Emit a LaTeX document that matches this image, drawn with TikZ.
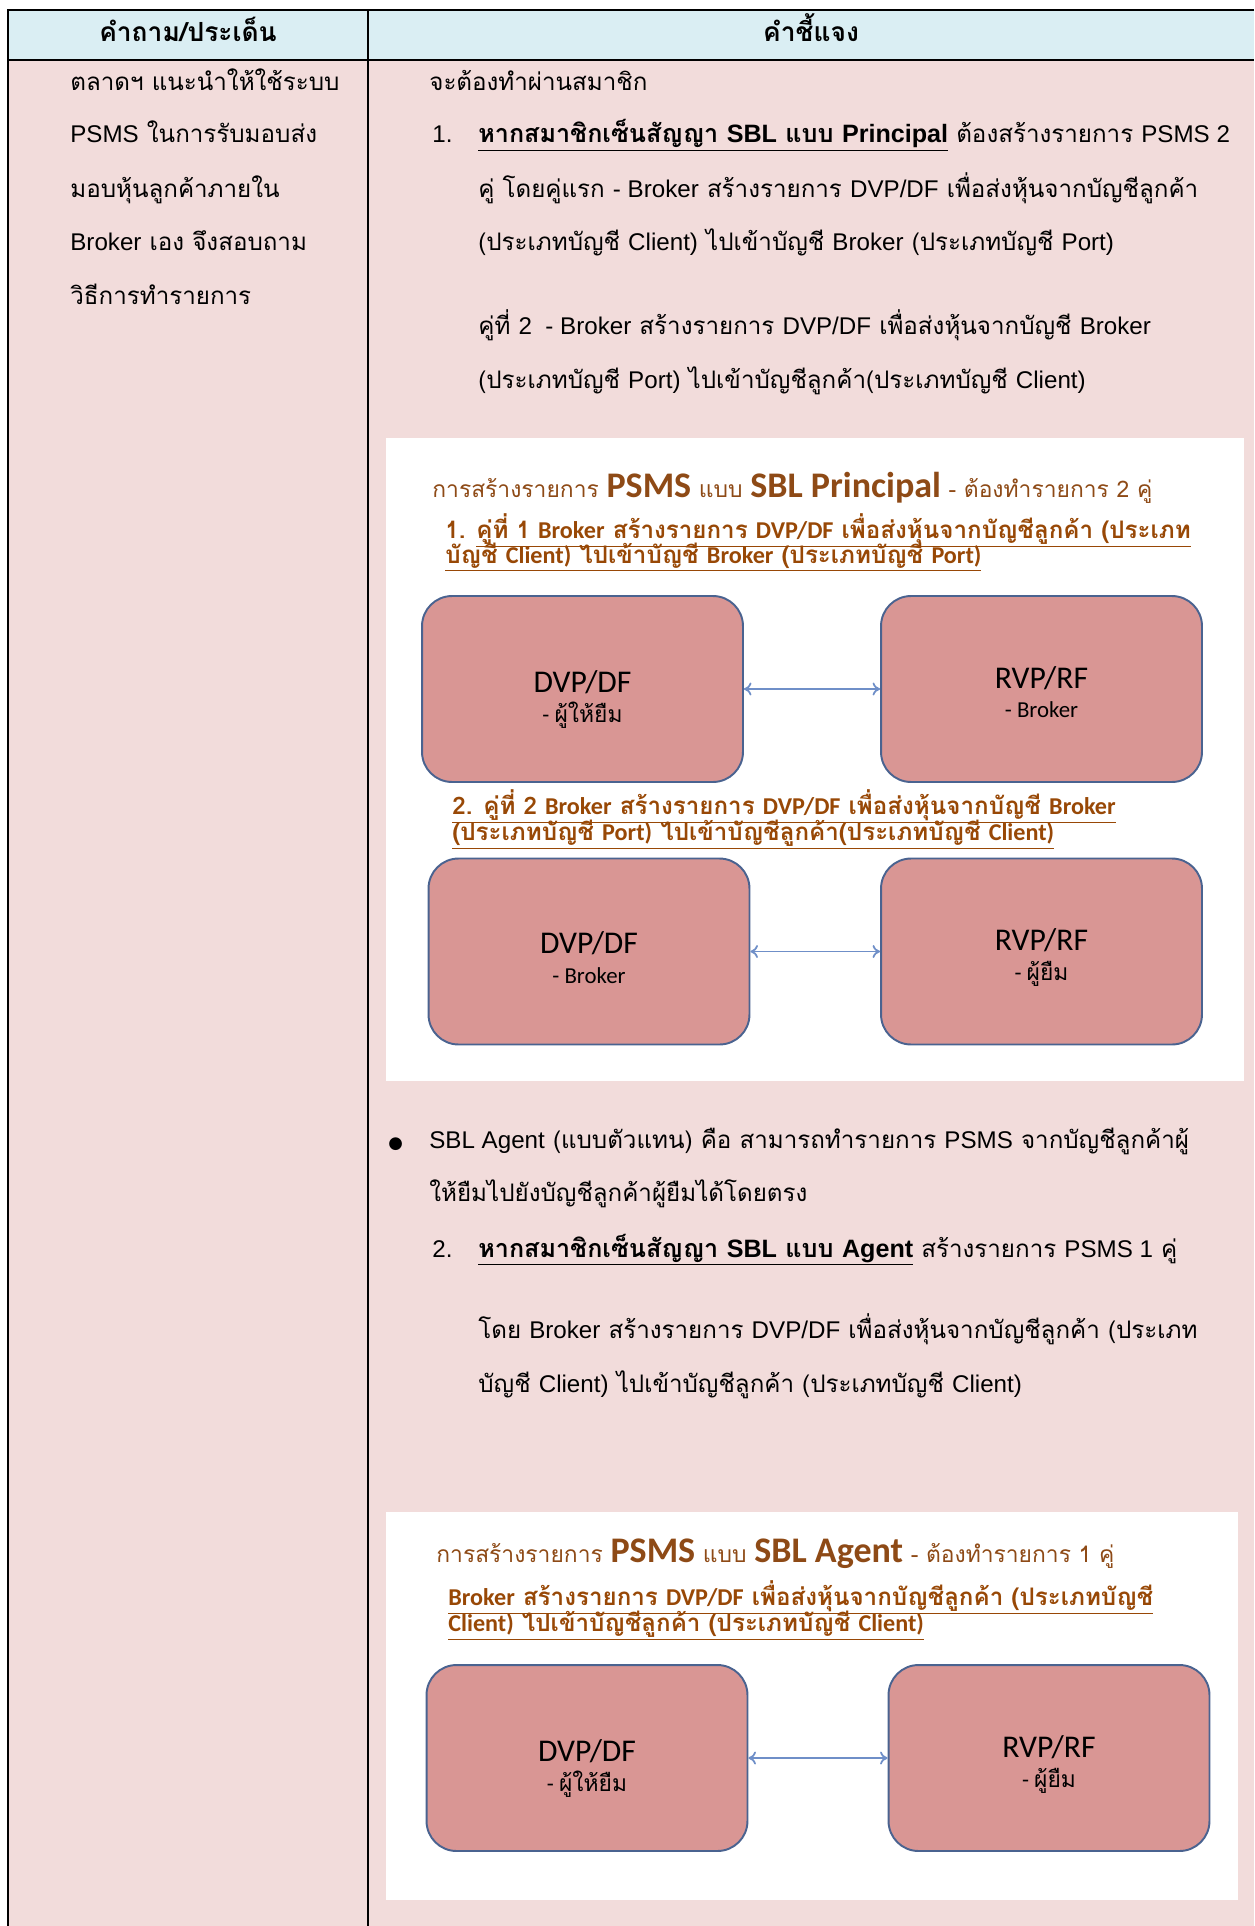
\documentclass[tikz,border=0pt]{standalone}
\usepackage{fontspec}
\setmainfont{Loma}[Script=Thai]
\newfontfamily\arialfont{Liberation Sans}
\newfontfamily\calfont{Carlito}
\newfontfamily\symfont{DejaVu Sans}
\usetikzlibrary{arrows.meta,positioning}

\definecolor{headblue}{HTML}{DAEEF3}
\definecolor{bodypink}{HTML}{F2DCDB}
\definecolor{boxred}{HTML}{D99694}
\definecolor{boxedge}{HTML}{4A6390}
\definecolor{linkblue}{HTML}{6F8FC8}
\definecolor{titlebrown}{HTML}{8E4A16}
\definecolor{subbrown}{HTML}{984806}

\newcommand\en[1]{{\arialfont #1}}
\newcommand\ca[1]{{\calfont #1}}
\newcommand\ul[1]{\underline{#1}}
\newcommand\bigca[1]{{\calfont\bfseries\fontsize{20.5}{22}\selectfont #1}}
\newcommand\keypart[1]{\ul{\fontsize{14.3}{16}\selectfont\textbf{#1}}}

\begin{document}
\begin{tikzpicture}[x=0.02cm,y=-0.02cm,
  cell/.style={draw=black, line width=1.6pt},
  txt/.style={anchor=base west, inner sep=0pt, font=\fontsize{13.75}{16}\selectfont},
  headtxt/.style={anchor=base, inner sep=0pt, font=\fontsize{15}{17}\selectfont\bfseries},
  acct/.style={rectangle, rounded corners=0.6cm, draw=boxedge, line width=1.1pt,
    fill=boxred, align=center, minimum width=6.42cm, minimum height=3.72cm,
    font=\calfont\fontsize{18}{20}\selectfont},
  link/.style={{To[length=1.5mm,width=2.6mm]}-{To[length=1.5mm,width=2.6mm]}, draw=linkblue, line width=1pt},
  ptitle/.style={anchor=base west, inner sep=0pt, text=titlebrown, font=\fontsize{13}{15}\selectfont},
  psub/.style={anchor=base west, inner sep=0pt, text=subbrown, font=\bfseries\fontsize{13.75}{16}\selectfont}
]
  \useasboundingbox (0,0) rectangle (1254,1926);

  % table
  \fill[headblue] (8,10) rectangle (1254,60);
  \fill[bodypink] (8,60) rectangle (1254,1926);
  \draw[cell] (1254,10) -- (8,10) -- (8,1926);
  \draw[cell] (8,60) -- (1254,60);
  \draw[cell] (368,10) -- (368,1926);

  \node[headtxt] (hq) at (188,42) {คำถาม/ประเด็น};
  \node[headtxt] (ha) at (811,42) {คำชี้แจง};

  % left column
  \node[txt] (q1) at (70,91)  {ตลาดฯ แนะนำให้ใช้ระบบ};
  \node[txt] (q2) at (70,143) {\en{PSMS} ในการรับมอบส่ง};
  \node[txt] (q3) at (70,197) {มอบหุ้นลูกค้าภายใน};
  \node[txt] (q4) at (70,251) {\en{Broker} เอง จึงสอบถาม};
  \node[txt] (q5) at (70,304) {วิธีการทำรายการ};

  % right column, part 1
  \node[txt] (a1) at (429,91)  {จะต้องทำผ่านสมาชิก};
  \node[txt] (n1) at (432,143) {\en{1.}};
  \node[txt] (a2) at (478,143) {\keypart{หากสมาชิกเซ็นสัญญา \en{SBL} แบบ \en{Principal}} ต้องสร้างรายการ \en{PSMS 2}};
  \node[txt] (a3) at (478,197) {คู่ โดยคู่แรก \en{- Broker} สร้างรายการ \en{DVP/DF} เพื่อส่งหุ้นจากบัญชีลูกค้า};
  \node[txt] (a4) at (478,251) {(ประเภทบัญชี \en{Client)} ไปเข้าบัญชี \en{Broker} (ประเภทบัญชี \en{Port)}};
  \node[txt] (a5) at (478,334) {คู่ที่ \en{2\ \ - Broker} สร้างรายการ \en{DVP/DF} เพื่อส่งหุ้นจากบัญชี \en{Broker}};
  \node[txt] (a6) at (478,388) {(ประเภทบัญชี \en{Port)} ไปเข้าบัญชีลูกค้า(ประเภทบัญชี \en{Client)}};

  % picture 1
  \fill[white] (386,438) rectangle (1244,1081);
  \node[ptitle] (t1) at (432,497) {การสร้างรายการ \bigca{PSMS} แบบ \bigca{SBL Principal} - ต้องทำรายการ 2 คู่};
  \node[psub] (s1a) at (445,538) {1. \ul{คู่ที่ 1 \ca{Broker} สร้างรายการ \ca{DVP/DF} เพื่อส่งหุ้นจากบัญชีลูกค้า (ประเภท}};
  \node[psub] (s1b) at (445,563) {\ul{บัญชี \ca{Client)} ไปเข้าบัญชี \ca{Broker} (ประเภทบัญชี \ca{Port)}}};
  \node[acct] (d1) at (582.5,689) {\rule{0pt}{24pt}DVP/DF\\[-3pt]{\fontsize{13}{15}\selectfont - {\normalfont ผู้ให้ยืม}}};
  \node[acct] (r1) at (1041.5,689) {\rule{0pt}{16pt}RVP/RF\\[-3pt]{\fontsize{13}{15}\selectfont - Broker}};
  \draw[link] (d1) -- (r1);
  \node[psub] (s2a) at (452,814) {\ul{2. คู่ที่ 2 \ca{Broker} สร้างรายการ \ca{DVP/DF} เพื่อส่งหุ้นจากบัญชี \ca{Broker}}};
  \node[psub] (s2b) at (452,840) {\ul{(ประเภทบัญชี \ca{Port)} ไปเข้าบัญชีลูกค้า(ประเภทบัญชี \ca{Client)}}};
  \node[acct] (d2) at (589,951.5) {\rule{0pt}{19pt}DVP/DF\\[-3pt]{\fontsize{13}{15}\selectfont - Broker}};
  \node[acct] (r2) at (1041.5,951.5) {\rule{0pt}{19pt}RVP/RF\\[-3pt]{\fontsize{13}{15}\selectfont - {\normalfont ผู้ยืม}}};
  \draw[link] (d2) -- (r2);

  % right column, part 2
  \node[txt] (b0) at (388,1148) {\symfont\fontsize{9.5}{10}\selectfont ●};
  \node[txt] (b1) at (429,1148) {\en{SBL Agent} (แบบตัวแทน) คือ สามารถทำรายการ \en{PSMS} จากบัญชีลูกค้าผู้};
  \node[txt] (b2) at (429,1201) {ให้ยืมไปยังบัญชีลูกค้าผู้ยืมได้โดยตรง};
  \node[txt] (n2) at (432,1257) {\en{2.}};
  \node[txt] (b3) at (478,1257) {\keypart{หากสมาชิกเซ็นสัญญา \en{SBL} แบบ \en{Agent}} สร้างรายการ \en{PSMS 1} คู่};
  \node[txt] (b4) at (478,1338) {โดย \en{Broker} สร้างรายการ \en{DVP/DF} เพื่อส่งหุ้นจากบัญชีลูกค้า (ประเภท};
  \node[txt] (b5) at (478,1392) {บัญชี \en{Client)} ไปเข้าบัญชีลูกค้า (ประเภทบัญชี \en{Client)}};

  % picture 2
  \fill[white] (386,1512) rectangle (1238,1900);
  \node[ptitle] (t2) at (436,1562) {การสร้างรายการ \bigca{PSMS} แบบ \bigca{SBL Agent} - ต้องทำรายการ 1 คู่};
  \node[psub] (s3a) at (448,1605) {\ul{\ca{Broker} สร้างรายการ \ca{DVP/DF} เพื่อส่งหุ้นจากบัญชีลูกค้า (ประเภทบัญชี}};
  \node[psub] (s3b) at (448,1631) {\ul{\ca{Client)} ไปเข้าบัญชีลูกค้า (ประเภทบัญชี \ca{Client)}}};
  \node[acct] (d3) at (587,1758) {\rule{0pt}{24pt}DVP/DF\\[-3pt]{\fontsize{13}{15}\selectfont - {\normalfont ผู้ให้ยืม}}};
  \node[acct] (r3) at (1049,1758) {\rule{0pt}{20pt}RVP/RF\\[-3pt]{\fontsize{13}{15}\selectfont - {\normalfont ผู้ยืม}}};
  \draw[link] (d3) -- (r3);
\end{tikzpicture}
\end{document}
